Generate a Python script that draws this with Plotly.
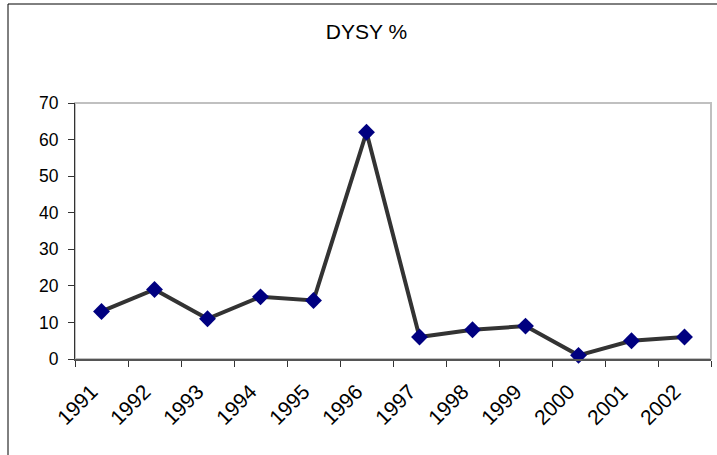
import plotly.graph_objects as go

years = ["1991", "1992", "1993", "1994", "1995", "1996", "1997", "1998", "1999", "2000", "2001", "2002"]
dysy = [13, 19, 11, 17, 16, 62, 6, 8, 9, 1, 5, 6]
y_ticks = [0, 10, 20, 30, 40, 50, 60, 70]

W, H = 717, 455
L, R, T, B = 75, 6, 103, 96
pw, ph = W - L - R, H - T - B

fig = go.Figure()
fig.add_trace(go.Scatter(
    x=years, y=dysy, mode="lines+markers",
    line=dict(color="#333333", width=4),
    marker=dict(symbol="diamond", size=13, color="#000080", line=dict(width=0)),
    showlegend=False, cliponaxis=False,
))

fig.update_layout(
    width=W, height=H,
    margin=dict(l=L, r=R, t=T, b=B),
    paper_bgcolor="white", plot_bgcolor="white",
    font=dict(family="Liberation Sans, Arial, sans-serif", size=18, color="black"),
    title=dict(text="DYSY %", x=366.5 / W, xanchor="center", y=1 - 32 / H, yanchor="middle",
               font=dict(size=21)),
    xaxis=dict(
        type="category", range=[-0.5, len(years) - 0.5],
        tickangle=-45, ticks="outside", tickson="boundaries", ticklen=6, tickcolor="#333333",
        showline=True, linecolor="#555555", linewidth=2, showgrid=False, zeroline=False,
        ticklabelshift=-10, ticklabelstandoff=10,
        tickfont=dict(size=21),
        fixedrange=True,
    ),
    yaxis=dict(
        range=[0, 70], tickvals=y_ticks, ticks="outside", ticklen=6, tickcolor="#333333",
        showline=True, linecolor="#333333", linewidth=1, showgrid=False, zeroline=False,
        ticklabelstandoff=6, tickfont=dict(size=17.5),
        fixedrange=True,
    ),
    shapes=[
        dict(type="rect", xref="paper", yref="paper", x0=0, x1=1, y0=0, y1=1,
             line=dict(color="#c0c0c0", width=2), layer="below"),
        dict(type="rect", xref="paper", yref="paper",
             x0=(8 - L) / pw, x1=(W + 20 - L) / pw,
             y0=-(H + 20 - (H - B)) / ph, y1=((H - B) - 4) / ph,
             line=dict(color="black", width=1)),
    ],
)

fig.write_html("out.html", config={"displayModeBar": False})
with open("out.html", "r", encoding="utf-8") as f:
    html = f.read()
html = html.replace("<head>", "<head><style>html,body{margin:0;padding:0;overflow:hidden;}</style>", 1)
with open("out.html", "w", encoding="utf-8") as f:
    f.write(html)
